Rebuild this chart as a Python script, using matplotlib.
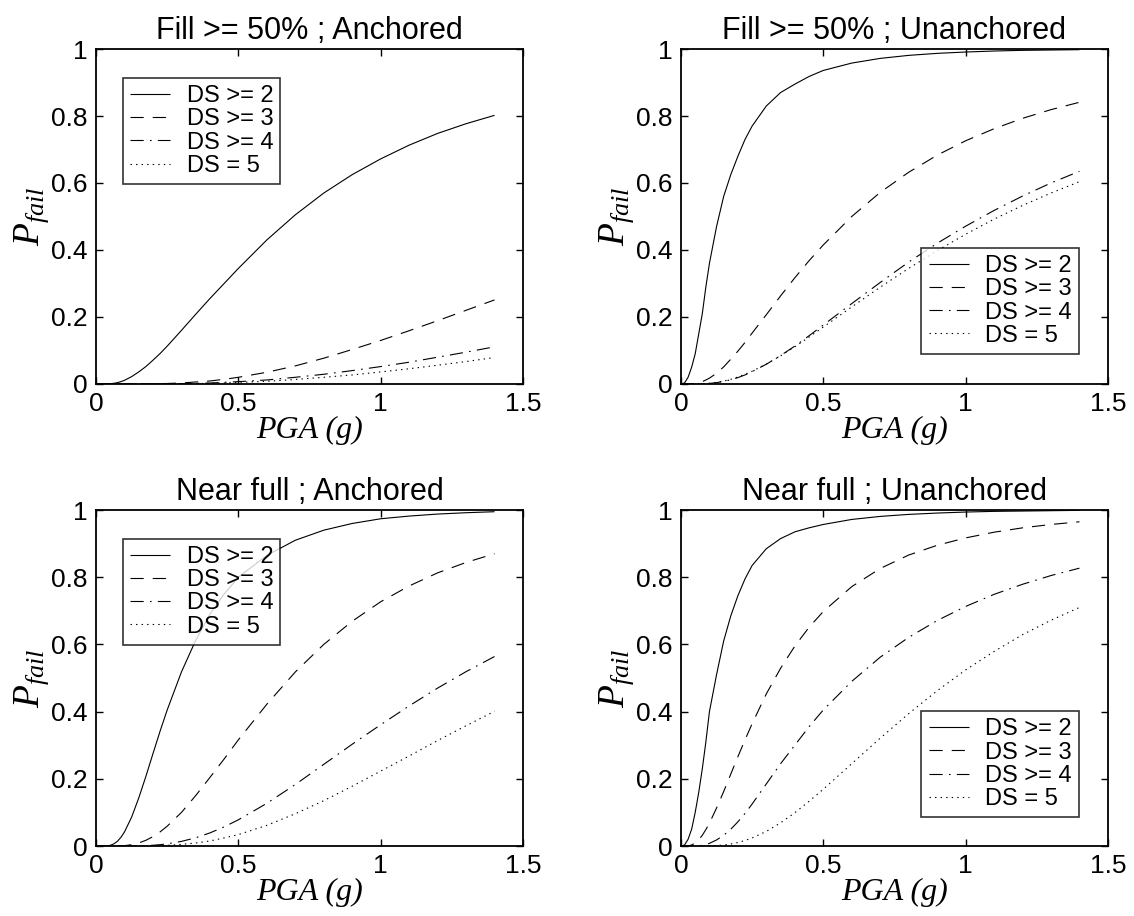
import matplotlib
matplotlib.use("Agg")
import matplotlib.pyplot as plt

plt.rcParams["font.family"] = ["Liberation Sans", "DejaVu Sans"]
plt.rcParams["mathtext.fontset"] = "custom"
plt.rcParams["mathtext.it"] = "Liberation Serif:italic"
plt.rcParams["mathtext.rm"] = "Liberation Serif"
plt.rcParams["lines.scale_dashes"] = False

# Peak ground acceleration (g) at which the fragility curves are tabulated
pga = [0, 0.0125, 0.025, 0.0375, 0.05, 0.0625, 0.075, 0.0875, 0.1, 0.125, 0.15, 0.175,
       0.2, 0.225, 0.25, 0.3, 0.35, 0.4, 0.45, 0.5, 0.6, 0.7, 0.8, 0.9, 1.0, 1.1, 1.2,
       1.3, 1.4]

labels = ["DS >= 2", "DS >= 3", "DS >= 4", "DS = 5"]

# Fill >= 50%, anchored
fill50_anch_ds2 = [0, 0, 0, 0.0003, 0.001, 0.002, 0.004, 0.007, 0.011, 0.022, 0.036, 0.052,
                   0.071, 0.091, 0.113, 0.160, 0.208, 0.255, 0.300, 0.345, 0.430, 0.505,
                   0.570, 0.625, 0.672, 0.713, 0.748, 0.777, 0.802]
fill50_anch_ds3 = [0, 0, 0, 0, 0, 0, 0, 0, 0, 0, 0.0001, 0.0003,
                   0.0005, 0.001, 0.0015, 0.003, 0.006, 0.009, 0.014, 0.020, 0.035, 0.054,
                   0.077, 0.103, 0.130, 0.159, 0.189, 0.220, 0.251]
fill50_anch_ds4 = [0, 0, 0, 0, 0, 0, 0, 0, 0, 0, 0, 0,
                   0.0002, 0.0003, 0.0005, 0.001, 0.002, 0.003, 0.005, 0.007, 0.012, 0.020,
                   0.029, 0.040, 0.052, 0.065, 0.080, 0.095, 0.111]
fill50_anch_ds5 = [0, 0, 0, 0, 0, 0, 0, 0, 0, 0, 0, 0,
                   0, 0.0001, 0.0003, 0.0007, 0.001, 0.002, 0.003, 0.005, 0.008, 0.0135,
                   0.020, 0.027, 0.036, 0.0455, 0.056, 0.067, 0.079]

# Fill >= 50%, unanchored
fill50_unanch_ds2 = [0, 0.003, 0.02, 0.05, 0.09, 0.15, 0.21, 0.29, 0.36, 0.47, 0.56, 0.625,
                     0.68, 0.73, 0.77, 0.83, 0.87, 0.895, 0.918, 0.936, 0.958, 0.972,
                     0.981, 0.987, 0.991, 0.994, 0.996, 0.997, 0.998]
fill50_unanch_ds3 = [0, 0, 0, 0.0006, 0.002, 0.004, 0.007, 0.012, 0.0175, 0.032, 0.051, 0.074,
                     0.098, 0.124, 0.152, 0.207, 0.263, 0.317, 0.368, 0.415, 0.5, 0.572,
                     0.632, 0.683, 0.726, 0.762, 0.793, 0.819, 0.841]
fill50_unanch_ds4 = [0, 0, 0, 0, 0, 0.0003, 0.0006, 0.001, 0.0017, 0.004, 0.0076, 0.0127,
                     0.019, 0.027, 0.037, 0.059, 0.085, 0.113, 0.144, 0.176, 0.240, 0.303,
                     0.364, 0.420, 0.471, 0.518, 0.561, 0.600, 0.635]
fill50_unanch_ds5 = [0, 0, 0, 0, 0, 0.0003, 0.0007, 0.0013, 0.002, 0.005, 0.0087, 0.014,
                     0.021, 0.029, 0.038, 0.0595, 0.084, 0.111, 0.140, 0.170, 0.230, 0.289,
                     0.345, 0.398, 0.447, 0.492, 0.533, 0.570, 0.604]

# Near full, anchored
full_anch_ds2 = [0, 0, 0, 0.0005, 0.002, 0.0064, 0.014, 0.026, 0.042, 0.086, 0.143, 0.207,
                 0.275, 0.342, 0.405, 0.518, 0.612, 0.690, 0.750, 0.800, 0.865, 0.910,
                 0.940, 0.960, 0.974, 0.982, 0.988, 0.992, 0.995]
full_anch_ds3 = [0, 0, 0, 0, 0, 0.0001, 0.0003, 0.0007, 0.001, 0.004, 0.009, 0.017,
                 0.028, 0.042, 0.059, 0.100, 0.150, 0.204, 0.259, 0.316, 0.422, 0.518,
                 0.600, 0.669, 0.727, 0.774, 0.813, 0.844, 0.870]
full_anch_ds4 = [0, 0, 0, 0, 0, 0, 0, 0, 0, 0, 0.0005, 0.0012,
                 0.0023, 0.004, 0.0065, 0.0138, 0.0245, 0.039, 0.057, 0.078, 0.127, 0.183,
                 0.243, 0.303, 0.361, 0.417, 0.470, 0.519, 0.564]
full_anch_ds5 = [0, 0, 0, 0, 0, 0, 0, 0, 0, 0, 0, 0.0002,
                 0.0006, 0.0012, 0.002, 0.005, 0.009, 0.015, 0.024, 0.034, 0.0615, 0.096,
                 0.135, 0.178, 0.223, 0.268, 0.314, 0.358, 0.401]

# Near full, unanchored
full_unanch_ds2 = [0, 0.003, 0.02, 0.05, 0.10, 0.16, 0.23, 0.31, 0.40, 0.51, 0.61, 0.685,
                   0.745, 0.795, 0.835, 0.885, 0.915, 0.935, 0.947, 0.957, 0.972, 0.981,
                   0.987, 0.991, 0.994, 0.996, 0.997, 0.998, 0.999]
full_unanch_ds3 = [0, 0, 0.0006, 0.003, 0.009, 0.019, 0.032, 0.049, 0.068, 0.113, 0.162, 0.214,
                   0.266, 0.316, 0.364, 0.453, 0.529, 0.595, 0.651, 0.698, 0.772, 0.826,
                   0.866, 0.895, 0.917, 0.934, 0.947, 0.957, 0.965]
full_unanch_ds4 = [0, 0, 0, 0, 0, 0.0005, 0.002, 0.004, 0.008, 0.018, 0.032, 0.05,
                   0.072, 0.097, 0.125, 0.185, 0.245, 0.30, 0.355, 0.405, 0.49, 0.562,
                   0.621, 0.671, 0.713, 0.749, 0.779, 0.805, 0.827]
full_unanch_ds5 = [0, 0, 0, 0, 0, 0, 0, 0, 0.0004, 0.001, 0.003, 0.006,
                   0.0105, 0.0165, 0.024, 0.0436, 0.069, 0.099, 0.133, 0.169, 0.245, 0.321,
                   0.394, 0.462, 0.524, 0.579, 0.629, 0.672, 0.710]

titles = ["Fill >= 50% ; Anchored", "Fill >= 50% ; Unanchored",
          "Near full ; Anchored", "Near full ; Unanchored"]

panels = [
    [fill50_anch_ds2, fill50_anch_ds3, fill50_anch_ds4, fill50_anch_ds5],
    [fill50_unanch_ds2, fill50_unanch_ds3, fill50_unanch_ds4, fill50_unanch_ds5],
    [full_anch_ds2, full_anch_ds3, full_anch_ds4, full_anch_ds5],
    [full_unanch_ds2, full_unanch_ds3, full_unanch_ds4, full_unanch_ds5],
]

# line styles for the four damage states: solid, dashed, dash-dot, dotted
styles = [(0, ()), (0, (9.5, 6.5)), (0, (9.5, 4.5, 1.2, 4.5)), (0, (1.0, 3.0))]

axes_rects = [
    [0.0847, 0.5808, 0.3765, 0.3657],
    [0.6005, 0.5808, 0.3765, 0.3657],
    [0.0847, 0.0764, 0.3765, 0.3668],
    [0.6005, 0.0764, 0.3765, 0.3668],
]

legend_places = [
    dict(loc="upper left", bbox_to_anchor=(0.063, 0.913)),
    dict(loc="lower right", bbox_to_anchor=(0.932, 0.09)),
    dict(loc="upper left", bbox_to_anchor=(0.063, 0.914)),
    dict(loc="lower right", bbox_to_anchor=(0.932, 0.086)),
]

fig = plt.figure(figsize=(11.34, 9.16), dpi=100)

for rect, title, curves, lp in zip(axes_rects, titles, panels, legend_places):
    ax = fig.add_axes(rect)
    for vals, ls, lab in zip(curves, styles, labels):
        ax.plot(pga, vals, color="black", linewidth=0.8, linestyle=ls, label=lab)
    ax.set_xlim(0, 1.5)
    ax.set_ylim(0, 1)
    ax.set_xticks([0, 0.5, 1, 1.5])
    ax.set_xticklabels(["0", "0.5", "1", "1.5"])
    ax.set_yticks([0, 0.2, 0.4, 0.6, 0.8, 1])
    ax.set_yticklabels(["0", "0.2", "0.4", "0.6", "0.8", "1"])
    ax.tick_params(direction="in", top=True, right=True, length=5, width=1.0,
                   labelsize=19, pad=6)
    for sp in ax.spines.values():
        sp.set_linewidth(1.3)
    ax.set_title(title, fontsize=22, pad=7)
    ax.set_xlabel("PGA (g)", fontsize=23, family="Liberation Serif", style="italic",
                  labelpad=0)
    ax.set_ylabel(r"$P_{fail}$", fontsize=27, labelpad=0)
    leg = ax.legend(fontsize=17, frameon=True, fancybox=False, edgecolor="black",
                    handlelength=1.7, handletextpad=0.7, labelspacing=0.05,
                    borderpad=0.3, borderaxespad=0, **lp)
    leg.get_frame().set_linewidth(1.2)

fig.savefig("out.png", dpi=100, facecolor="white")
